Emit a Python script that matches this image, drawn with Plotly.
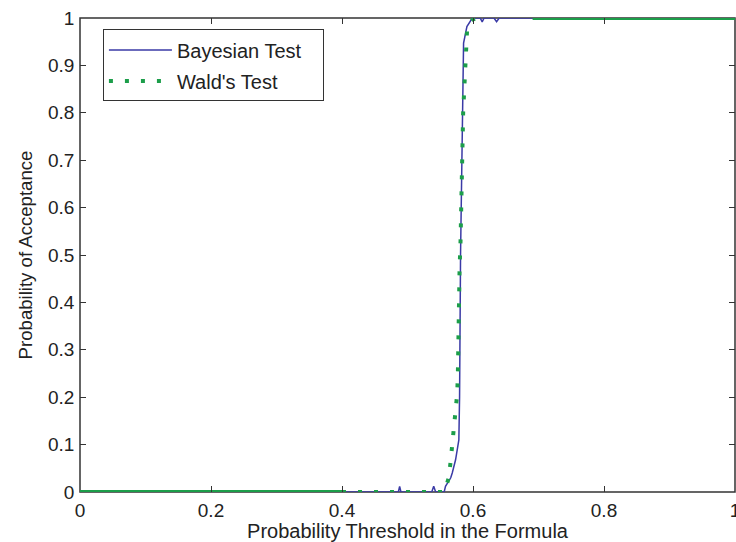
import plotly.graph_objects as go

# ---- data ----
bayes_x = [0.0, 0.400, 0.486, 0.488, 0.490, 0.537, 0.540, 0.543, 0.556, 0.558, 0.5616,
           0.564, 0.566, 0.5683, 0.5734, 0.5784, 0.5795, 0.581, 0.5836, 0.5856, 0.5907,
           0.599, 0.611, 0.614, 0.617, 0.632, 0.636, 0.640, 0.691, 1.0]
bayes_y = [0.0, 0.0, 0.0, 0.012, 0.0, 0.0, 0.012, 0.0, 0.0, 0.012, 0.019,
           0.025, 0.030, 0.040, 0.068, 0.110, 0.20, 0.50, 0.80, 0.947, 0.982,
           1.0, 1.0, 0.992, 1.0, 1.0, 0.992, 1.0, 1.0, 1.0]

wald_x = [0.400, 0.556, 0.5575, 0.5605, 0.563, 0.5655, 0.568, 0.5723, 0.5734, 0.576,
          0.577, 0.578, 0.5795, 0.581, 0.582, 0.5836, 0.585, 0.5865, 0.588, 0.589,
          0.591, 0.595, 0.600, 0.607, 0.620]
wald_y = [0.0, 0.0, 0.005, 0.020, 0.030, 0.060, 0.095, 0.141, 0.169, 0.209,
          0.257, 0.405, 0.470, 0.530, 0.641, 0.707, 0.802, 0.850, 0.900, 0.950,
          0.975, 0.990, 0.997, 1.0, 1.0]

# dense Wald segments (rendered solid in the reference)
wald_low_x = [0.0, 0.400]
wald_low_y = [0.0, 0.0]
wald_high_x = [0.691, 1.0]
wald_high_y = [1.0, 1.0]

x_ticks = [0, 0.2, 0.4, 0.6, 0.8, 1]
x_tick_text = ["0", "0.2", "0.4", "0.6", "0.8", "1"]
y_ticks = [0, 0.1, 0.2, 0.3, 0.4, 0.5, 0.6, 0.7, 0.8, 0.9, 1]
y_tick_text = ["0", "0.1", "0.2", "0.3", "0.4", "0.5", "0.6", "0.7", "0.8", "0.9", "1"]

BLUE = "#3a3aa6"
GREEN = "#1c9e4a"
TXT = "#222222"
FONT = "Liberation Sans, Arial, sans-serif"
PAD = "\u00a0\u00a0\u00a0"

fig = go.Figure()
fig.add_trace(go.Scatter(x=bayes_x, y=bayes_y, mode="lines", name="Bayesian Test" + PAD,
                         line=dict(color=BLUE, width=1.5), legendgroup="a"))
fig.add_trace(go.Scatter(x=wald_x, y=wald_y, mode="lines", name="Wald's Test",
                         line=dict(color=GREEN, width=4, dash="4px,12px"), legendgroup="b"))
fig.add_trace(go.Scatter(x=wald_low_x, y=wald_low_y, mode="lines", showlegend=False,
                         line=dict(color=GREEN, width=4), legendgroup="b"))
fig.add_trace(go.Scatter(x=wald_high_x, y=wald_high_y, mode="lines", showlegend=False,
                         line=dict(color=GREEN, width=4), legendgroup="b"))

fig.add_shape(type="rect", xref="paper", yref="paper", x0=0, x1=1, y0=0, y1=1,
              line=dict(color="#333333", width=1.5), layer="below")

fig.update_layout(
    width=736, height=542,
    margin=dict(l=80, r=1, t=18, b=50, autoexpand=False),
    paper_bgcolor="white", plot_bgcolor="white",
    font=dict(family=FONT, size=19, color=TXT),
    showlegend=True,
    legend=dict(x=0.035, y=0.976, xanchor="left", yanchor="top",
                bgcolor="white", bordercolor="#333333", borderwidth=1,
                font=dict(family=FONT, size=20, color=TXT),
                itemwidth=63, tracegroupgap=2, traceorder="grouped"),
)
fig.update_xaxes(range=[0, 1], tickvals=x_ticks, ticktext=x_tick_text, automargin=False,
                 ticks="inside", ticklen=6, tickwidth=1, tickcolor="#333333",
                 showline=True, linecolor="rgba(0,0,0,0)", linewidth=1.5,
                 mirror="ticks", showgrid=False, zeroline=False, ticklabeloverflow="allow",
                 title=dict(text="Probability Threshold in the Formula",
                            font=dict(size=20), standoff=2),
                 tickfont=dict(size=19))
fig.update_yaxes(range=[0, 1], tickvals=y_ticks, ticktext=y_tick_text, automargin=False,
                 ticks="inside", ticklen=6, tickwidth=1, tickcolor="#333333",
                 showline=True, linecolor="rgba(0,0,0,0)", linewidth=1.5,
                 mirror="ticks", showgrid=False, zeroline=False, ticklabeloverflow="allow",
                 title=dict(text="Probability of Acceptance",
                            font=dict(size=18.6), standoff=11),
                 tickfont=dict(size=19))

# remove the default page margin so the 736x542 figure fills the window exactly
fig.write_html("out.html",
               config={"displayModeBar": False},
               post_script="document.body.style.margin='0';document.body.style.overflow='hidden';")
